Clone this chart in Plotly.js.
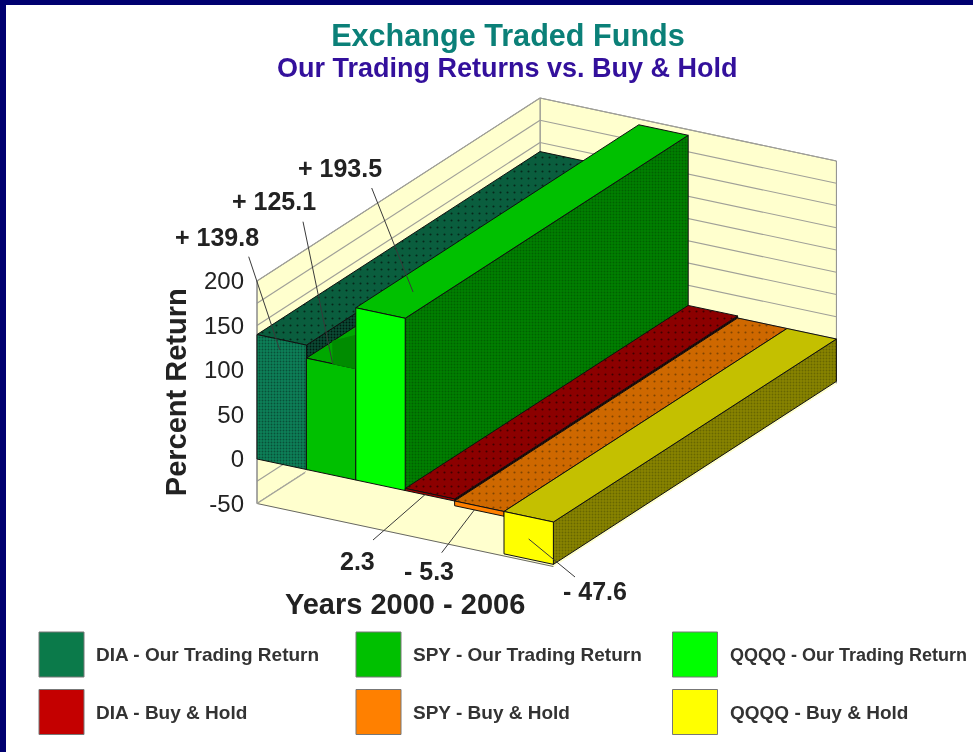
<!DOCTYPE html>
<html><head><meta charset="utf-8">
<script src="https://cdn.plot.ly/plotly-3.0.1.min.js"></script>
<style>html,body{margin:0;padding:0;background:#fff;overflow:hidden}#c{width:973px;height:752px;filter:blur(0.55px)}</style>
</head><body><div id="c"></div>
<script>
// ---- data ----
const seriesNames = ["DIA - Our Trading Return","SPY - Our Trading Return","QQQQ - Our Trading Return","DIA - Buy & Hold","SPY - Buy & Hold","QQQQ - Buy & Hold"];
const returns = [139.8,125.1,193.5,2.3,-5.3,-47.6];
const valueLabels = ["+ 139.8","+ 125.1","+ 193.5","2.3","- 5.3","- 47.6"];
const gridValues = [-50,-25,0,25,50,75,100,125,150,175,200];
const tickValues = [-50,0,50,100,150,200];
const tickLabels = ["-50","0","50","100","150","200"];
const axisMin = -50, axisMax = 200;
// ---- styles ----
const frontColors = ["#0B7A52","#00C000","#00FF00","#A80000","#FF8000","#FFFF00"];
const topColors   = ["#0A5E3E","#00A800","#00C000","#8B0000","#CC6600","#C4C000"];
const sideColors  = ["#0A3E2C","#008000","#007E00","#200000","#7A4000","#808000"];
const swatchColors= ["#0B7A4A","#00C000","#00FF00","#C40000","#FF8000","#FFFF00"];
const cream = "#FFFFCE";
const dith = (fg,bg)=>({shape:".",fgcolor:fg,bgcolor:bg,size:3,solidity:0.3});
const dots = (fg,bg)=>({shape:".",fgcolor:fg,bgcolor:bg,size:7,solidity:0.07});
const frontPatterns = [dith("#085038","#0D8058"),null,null,null,null,null];
const topPatterns   = [dots("#04281A","#0A5E3E"),null,null,dots("#400000","#8C0000"),dots("#804400","#CE6800"),null];
const sidePatterns  = [dith("#001810","#0A4A34"),dith("#006000","#008400"),dith("#006000","#008000"),null,null,dith("#686600","#888400")];

// oblique projection of (category position, depth 0..1, value) to page pixels
const proj = (i,d,v) => [257 + 49.4*i + 283*d, 459 - 0.89*v + 10.5*i - 183*d];
const traces = [];
function face(name, pts, fill, line, pattern){
  const xy = pts.concat([pts[0]]).map(p=>proj(p[0],p[1],p[2]));
  const t = {type:"scatter",mode:"lines",name,x:xy.map(p=>p[0]),y:xy.map(p=>p[1]),fill:"toself",fillcolor:fill,
    line:{color:line||"#101010",width:1},hoverinfo:"skip"};
  if(pattern) t.fillpattern = pattern;
  traces.push(t);
}
function segs(name, list, color, width, dash){
  const x=[],y=[];
  list.forEach(s=>{const a=proj(...s[0]),b=proj(...s[1]);x.push(a[0],b[0],null);y.push(a[1],b[1],null);});
  traces.push({type:"scatter",mode:"lines",name,x,y,line:{color,width,dash:dash||"solid"},hoverinfo:"skip"});
}
// walls and floor
face("Back wall",[[0,1,axisMin],[6,1,axisMin],[6,1,axisMax],[0,1,axisMax]],cream,"#8a8a8a");
face("Left wall",[[0,0,axisMin],[0,1,axisMin],[0,1,axisMax],[0,0,axisMax]],cream,"#8a8a8a");
segs("Grid left",gridValues.map(v=>[[0,0,v],[0,1,v]]),"#a0a098",1.2);
segs("Grid back",gridValues.map(v=>[[0,1,v],[6,1,v]]),"#a0a098",1.2);
face("Floor",[[0,0,axisMin],[6,0,axisMin],[6,1,axisMin],[0,1,axisMin]],cream,cream);
segs("Floor front edge",[[[0,0,axisMin],[6,0,axisMin]]],"#666666",1);
segs("Left wall front edge",[[[0,0,axisMin],[0,0,axisMax]]],"#8a8a8a",1);
segs("Left wall base line",[[[0,0,axisMin],[0,0.17,axisMin]]],"#a0a098",1.2);
// bars
returns.forEach((v,i)=>{
  const a=Math.max(v,0), b=Math.min(v,0);
  face(seriesNames[i]+" side",[[i+1,0,a],[i+1,1,a],[i+1,1,b],[i+1,0,b]],sideColors[i],null,sidePatterns[i]);
  face(seriesNames[i]+" top",[[i,0,a],[i+1,0,a],[i+1,1,a],[i,1,a]],topColors[i],null,topPatterns[i]);
  face(seriesNames[i]+" front",[[i,0,a],[i+1,0,a],[i+1,0,b],[i,0,b]],frontColors[i],null,frontPatterns[i]);
  if(i===1) face("SPY top shade",[[1.54,0,v],[2,0,v],[2,0.3,v],[1,0.093,v]],"#008C00","#008C00");
});
// leader lines
const L = "#3a3a3a";
function leader(name,px,py,i,d,v){
  const e=proj(i,d,v);
  traces.push({type:"scatter",mode:"lines",name,x:[px,e[0]],y:[py,e[1]],line:{color:L,width:1},hoverinfo:"skip"});
}
leader("lead DIA",248.7,256.7,0.46,0,128);
leader("lead SPY",303,221.7,1.53,0,returns[1]);
leader("lead QQQQ",371.7,188,2.5,0.115,returns[2]);
leader("lead DIA BH",373,540,3.4,0,0);
leader("lead SPY BH",441.7,552.7,4.4,0,returns[4]);
leader("lead QQQQ BH",575,577,5.5,0,-25);

// legend swatches
const swatchX=[61.5,378.5,695,61.5,378.5,695], swatchY=[654.5,654.5,654.5,712,712,712], textX=[94,411,728,94,411,728], textSize=[19,19,18,19,19,19];
seriesNames.forEach((n,i)=>traces.push({type:"scatter",mode:"markers",name:n+" key",x:[swatchX[i]],y:[swatchY[i]],
  marker:{symbol:"square",size:45,color:swatchColors[i],line:{color:"#777",width:1}},hoverinfo:"skip"}));
// dummy trace binding the percent axis
traces.push({type:"scatter",mode:"lines",x:[0],y:[0],xaxis:"x",yaxis:"y2",hoverinfo:"skip",line:{width:0},name:"axis"});

const F="Liberation Sans, Arial, sans-serif";
function note(text,x,y,size,bold,color){
  return {text:bold?"<b>"+text+"</b>":text,x,y,xref:"x",yref:"y",xanchor:"left",yanchor:"middle",showarrow:false,
    font:{family:F,size,color:color||"#222"}};
}
const anns=[
  {text:"<b>Our Trading Returns vs. Buy &amp; Hold</b>",x:507,y:68,xref:"x",yref:"y",showarrow:false,xanchor:"center",yanchor:"middle",font:{family:F,size:27,color:"#33109C"}},
  {text:"<b>Years 2000 - 2006</b>",x:405,y:604,xref:"x",yref:"y",showarrow:false,xanchor:"center",yanchor:"middle",font:{family:F,size:29,color:"#222"}},
  note(valueLabels[0],173,237,25,true),
  note(valueLabels[1],230,201,25,true),
  note(valueLabels[2],296,168,25,true),
  note(valueLabels[3],338,561,25,true),
  note(valueLabels[4],402,571,25,true),
  note(valueLabels[5],561,591,25,true)
];
seriesNames.forEach((n,i)=>anns.push(note(n.replace("&","&amp;"),textX[i],swatchY[i],textSize[i],true,"#333")));

const layout={
  width:973,height:752,margin:{l:0,r:0,t:0,b:0,pad:0},paper_bgcolor:"#fff",plot_bgcolor:"rgba(0,0,0,0)",showlegend:false,hovermode:false,
  title:{text:"<b>Exchange Traded Funds</b>",x:508/973,xanchor:"center",xref:"paper",y:1-35/752,yanchor:"middle",yref:"paper",font:{family:F,size:30.6,color:"#0B8078"}},
  xaxis:{range:[0,973],visible:false,fixedrange:true},
  yaxis:{range:[752,0],visible:false,fixedrange:true},
  yaxis2:{range:[axisMin,axisMax],domain:[1-503.5/752,1-281/752],anchor:"free",position:244/973,side:"left",tickmode:"array",tickvals:tickValues,ticktext:tickLabels,
    showgrid:false,zeroline:false,showline:false,ticks:"",tickfont:{family:F,size:24,color:"#222"},
    title:{text:"<b>Percent Return</b>",font:{family:F,size:29,color:"#222"},standoff:7}},
  annotations:anns,
  shapes:[
    {type:"rect",xref:"x",yref:"y",x0:0,x1:6,y0:0,y1:752,fillcolor:"#000070",line:{width:0},layer:"above"},
    {type:"rect",xref:"x",yref:"y",x0:0,x1:973,y0:0,y1:5,fillcolor:"#000070",line:{width:0},layer:"above"}
  ]
};
Plotly.newPlot("c",traces,layout,{displayModeBar:false,staticPlot:true});
</script></body></html>
